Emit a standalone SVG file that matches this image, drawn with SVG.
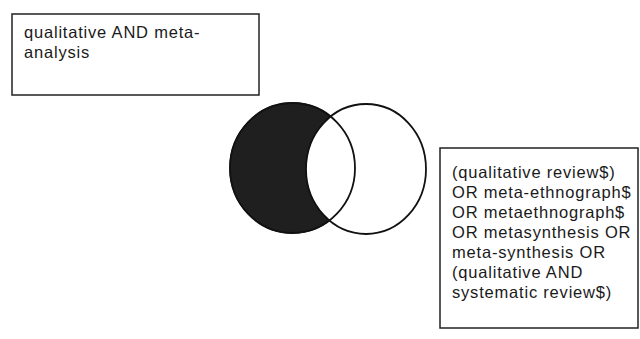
<svg xmlns="http://www.w3.org/2000/svg" width="640" height="339" viewBox="0 0 640 339">
<style>
.box{fill:#fff;stroke:#222;stroke-width:1.5}
.t{font-family:"Liberation Sans",Arial,sans-serif;font-size:16.5px;fill:#1a1a1a;letter-spacing:0.8px}
.c{stroke:#111;stroke-width:1.8}
</style>
<rect width="640" height="339" fill="#fff"/>
<g id="node-query1">
<rect class="box" x="12" y="14" width="247" height="81"/>
<text class="t" x="24" y="38">qualitative AND meta-</text>
<text class="t" x="24" y="58">analysis</text>
</g>
<g id="node-venn">
<ellipse cx="292.5" cy="168" rx="62.5" ry="65" fill="#1f1f1f" stroke="#1f1f1f" stroke-width="1.5"/>
<ellipse class="c" cx="366" cy="169" rx="60" ry="65" fill="#fff"/>
<ellipse class="c" cx="292.5" cy="168" rx="62.5" ry="65" fill="none"/>
</g>
<g id="node-query2">
<rect class="box" x="440" y="148" width="198" height="180"/>
<text class="t" x="452" y="178">(qualitative review$)</text>
<text class="t" x="452" y="198">OR meta-ethnograph$</text>
<text class="t" x="452" y="218">OR metaethnograph$</text>
<text class="t" x="452" y="238">OR metasynthesis OR</text>
<text class="t" x="452" y="258">meta-synthesis OR</text>
<text class="t" x="452" y="278">(qualitative AND</text>
<text class="t" x="452" y="298">systematic review$)</text>
</g>
</svg>
